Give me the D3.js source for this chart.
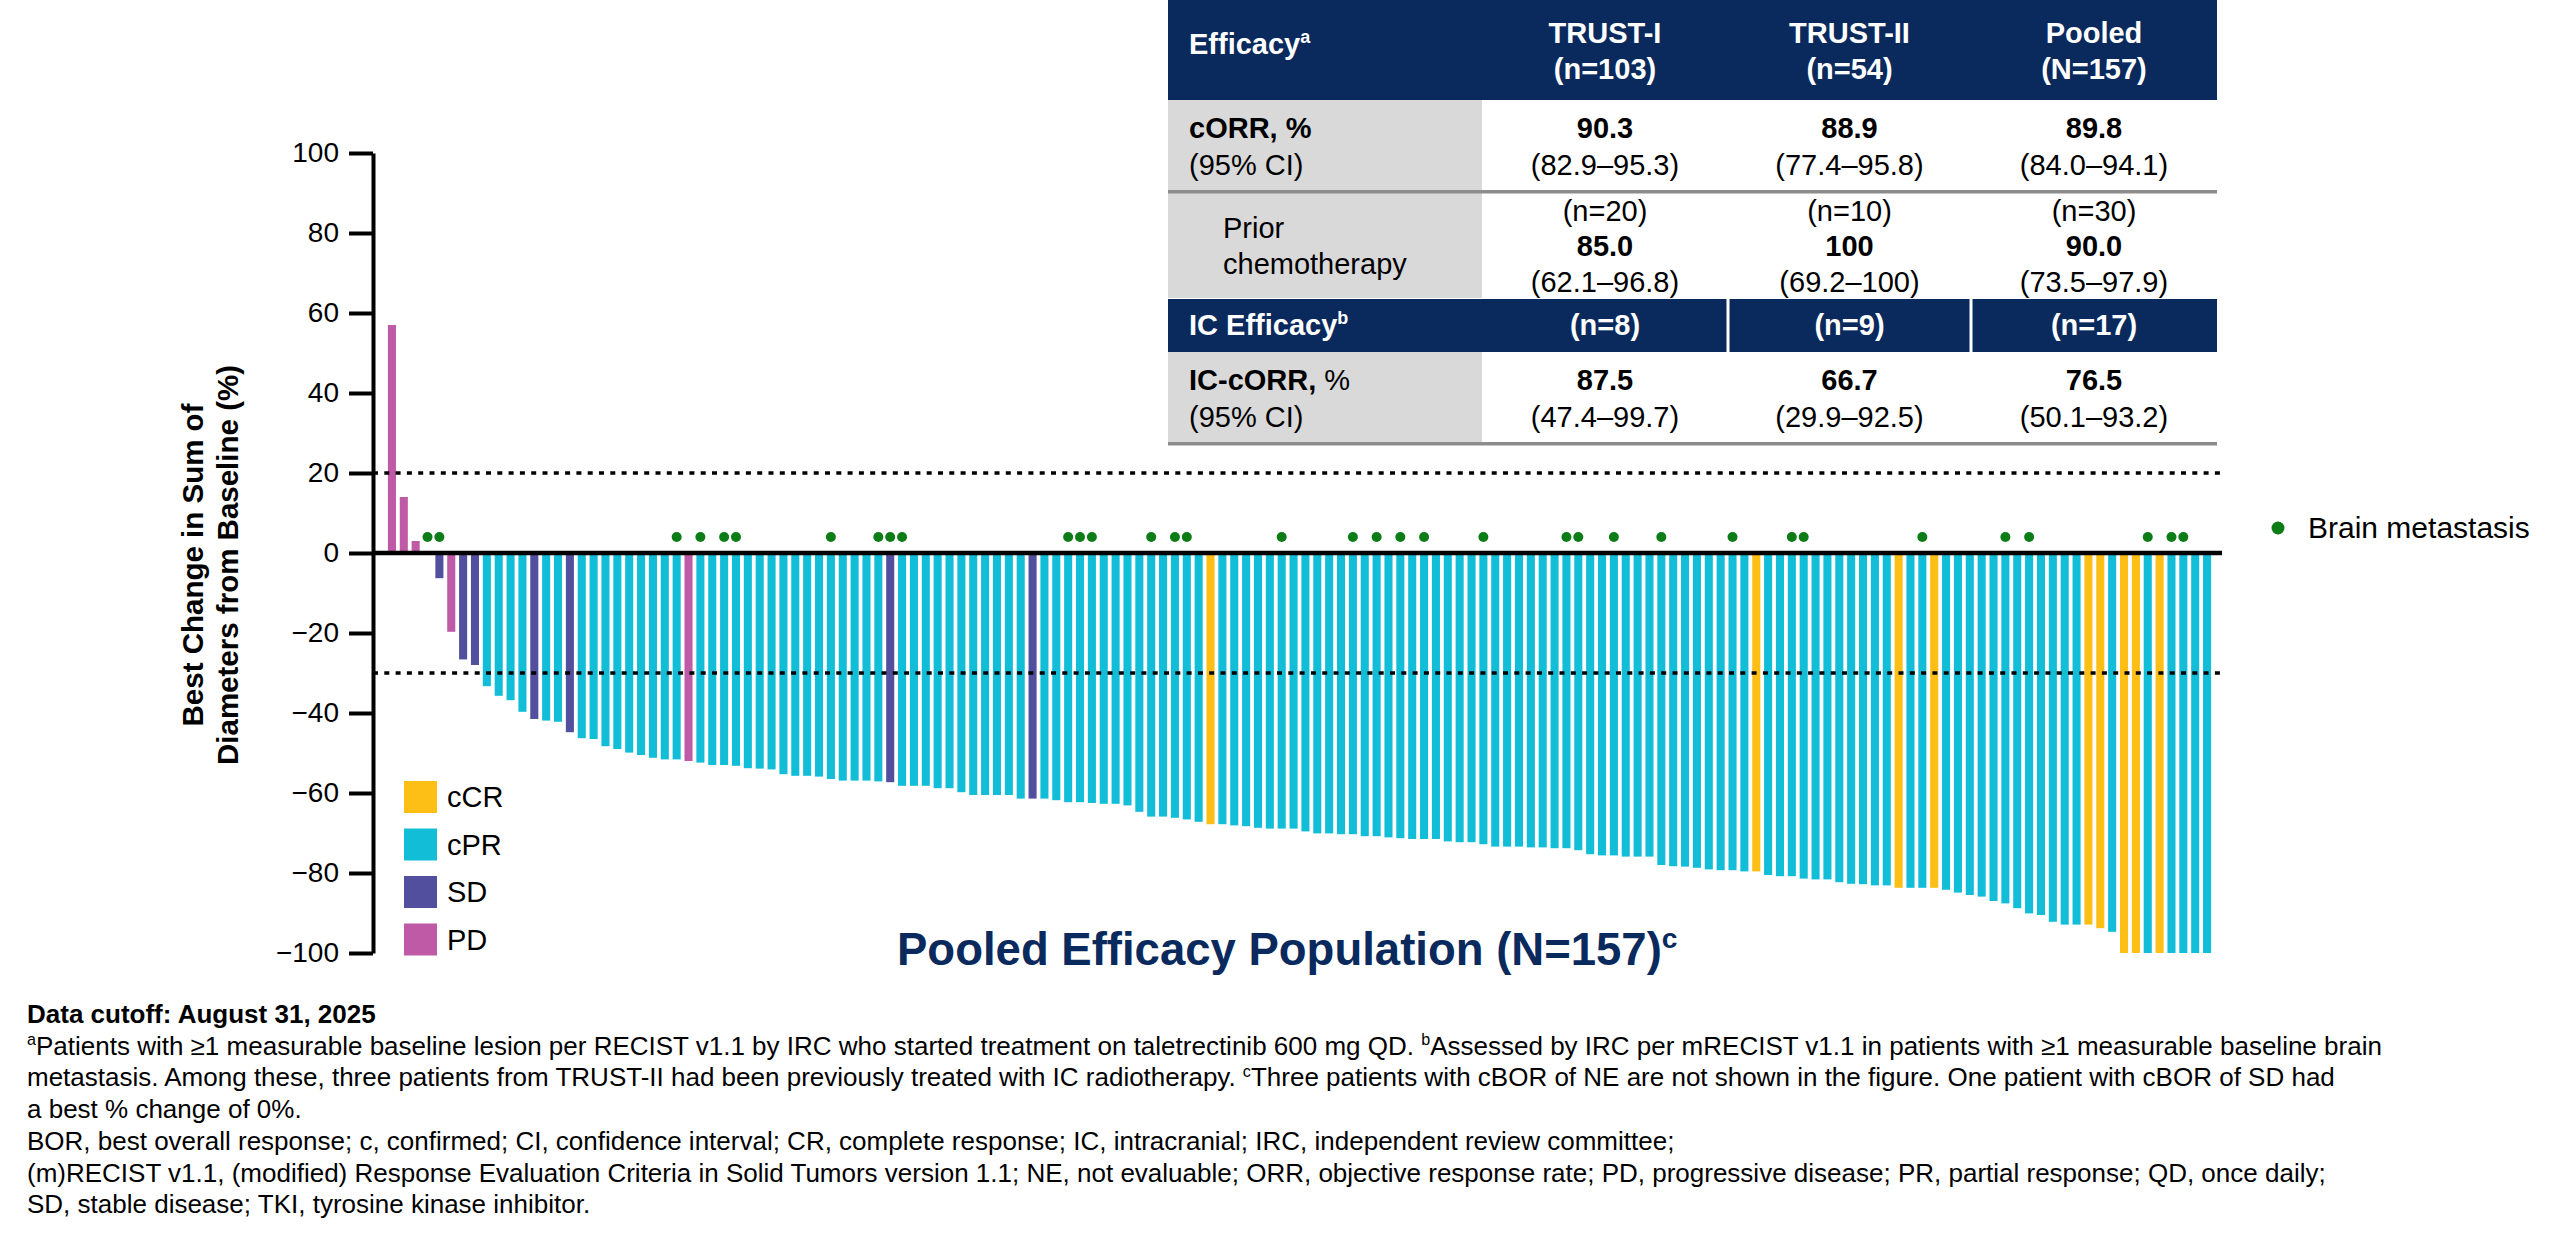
<!DOCTYPE html>
<html>
<head>
<meta charset="utf-8">
<script src="https://cdn.jsdelivr.net/npm/d3@7"></script>
<style>
	body { margin: 0; background: #fff; }
	svg text { font-family: "Liberation Sans", Arial, sans-serif; }
</style>
</head>
<body>
<div id="chart"></div>
<script>
/* pooled waterfall plot */

// best % change from baseline, one value per patient, sorted
const bestChange = [
	57, 14, 3, 0, -6.3, -19.7, -26.6, -28, -33.3, -35.7,
	-36.8, -39.7, -41.5, -41.9, -42.2, -44.8, -46.3, -46.5, -48.3, -49,
	-49.9, -50.5, -51.2, -51.6, -51.6, -52, -52.4, -53, -53, -53.2,
	-53.8, -53.9, -54.1, -55.3, -55.7, -55.7, -55.9, -56.5, -56.9, -56.9,
	-56.9, -57.1, -57.3, -58.2, -58.2, -58.2, -58.8, -58.8, -59.8, -60.5,
	-60.5, -60.5, -60.5, -61.4, -61.4, -61.4, -61.8, -62.3, -62.3, -62.5,
	-62.7, -62.7, -63.1, -64.7, -65.9, -65.9, -66.2, -66.6, -67.2, -67.8,
	-67.8, -68.1, -68.3, -68.7, -68.9, -68.9, -68.9, -69.6, -70.1, -70.1,
	-70.3, -70.3, -70.8, -70.8, -71.1, -71.3, -71.5, -71.5, -71.5, -72.1,
	-72.3, -72.3, -72.8, -73.4, -73.4, -73.4, -73.6, -73.6, -73.8, -73.8,
	-74.3, -75.3, -75.6, -75.6, -75.9, -75.9, -75.9, -78, -78.3, -78.4,
	-78.7, -79.1, -79.3, -79.3, -79.6, -79.6, -80.5, -80.8, -80.8, -81.4,
	-81.6, -81.6, -82.3, -82.7, -82.8, -83.1, -83.1, -83.7, -83.7, -83.7,
	-83.7, -84.2, -84.9, -85.5, -85.9, -87, -87.6, -88.8, -90.1, -90.5,
	-92.2, -92.9, -92.9, -92.9, -93.8, -94.7, -100, -100, -100, -100,
	-100, -100, -100, -100
];

// confirmed best overall response for each bar
const response = [
	"PD","PD","PD","SD","SD","PD","SD","SD","PR","PR",
	"PR","PR","SD","PR","PR","SD","PR","PR","PR","PR",
	"PR","PR","PR","PR","PR","PD","PR","PR","PR","PR",
	"PR","PR","PR","PR","PR","PR","PR","PR","PR","PR",
	"PR","PR","SD","PR","PR","PR","PR","PR","PR","PR",
	"PR","PR","PR","PR","SD","PR","PR","PR","PR","PR",
	"PR","PR","PR","PR","PR","PR","PR","PR","PR","CR",
	"PR","PR","PR","PR","PR","PR","PR","PR","PR","PR",
	"PR","PR","PR","PR","PR","PR","PR","PR","PR","PR",
	"PR","PR","PR","PR","PR","PR","PR","PR","PR","PR",
	"PR","PR","PR","PR","PR","PR","PR","PR","PR","PR",
	"PR","PR","PR","PR","PR","CR","PR","PR","PR","PR",
	"PR","PR","PR","PR","PR","PR","PR","CR","PR","PR",
	"CR","PR","PR","PR","PR","PR","PR","PR","PR","PR",
	"PR","PR","PR","CR","CR","PR","CR","CR","PR","CR",
	"PR","PR","PR","PR"
];

// patients (bar number) with brain metastasis
const brainMets = [4, 5, 25, 27, 29, 30, 38, 42, 43, 44, 58, 59, 60, 65, 67, 68, 76,
	82, 84, 86, 88, 93, 100, 101, 104, 108, 114, 119, 120, 130, 137, 139, 149, 151, 152];

const yTicks = [-100, -80, -60, -40, -20, 0, 20, 40, 60, 80, 100];
const refLines = [20, -30];

const legendKeys = ["CR", "PR", "SD", "PD"];
const legendLabels = ["cCR", "cPR", "SD", "PD"];

// efficacy table
const studies = ["TRUST-I", "TRUST-II", "Pooled"];
const studyN = ["(n=103)", "(n=54)", "(N=157)"];
const cORR = ["90.3", "88.9", "89.8"];
const cORRci = ["(82.9–95.3)", "(77.4–95.8)", "(84.0–94.1)"];
const priorN = ["(n=20)", "(n=10)", "(n=30)"];
const priorORR = ["85.0", "100", "90.0"];
const priorCI = ["(62.1–96.8)", "(69.2–100)", "(73.5–97.9)"];
const icN = ["(n=8)", "(n=9)", "(n=17)"];
const icORR = ["87.5", "66.7", "76.5"];
const icCI = ["(47.4–99.7)", "(29.9–92.5)", "(50.1–93.2)"];

// footnote lines, each a list of [text, style] pieces
const notes = [
	[["Data cutoff: August 31, 2025", "b"]],
	[["a", "sup"], ["Patients with ≥1 measurable baseline lesion per RECIST v1.1 by IRC who started treatment on taletrectinib 600 mg QD. "], ["b", "sup"], ["Assessed by IRC per mRECIST v1.1 in patients with ≥1 measurable baseline brain"]],
	[["metastasis. Among these, three patients from TRUST-II had been previously treated with IC radiotherapy. "], ["c", "sup"], ["Three patients with cBOR of NE are not shown in the figure. One patient with cBOR of SD had"]],
	[["a best % change of 0%."]],
	[["BOR, best overall response; c, confirmed; CI, confidence interval; CR, complete response; IC, intracranial; IRC, independent review committee;"]],
	[["(m)RECIST v1.1, (modified) Response Evaluation Criteria in Solid Tumors version 1.1; NE, not evaluable; ORR, objective response rate; PD, progressive disease; PR, partial response; QD, once daily;"]],
	[["SD, stable disease; TKI, tyrosine kinase inhibitor."]]
];

var Waterfall = function(config){
	this.targetID = config.targetID;
	this.width = 2560;
	this.height = 1235;

	this.colors = {CR: "#FDBE16", PR: "#12BDD8", SD: "#534F9F", PD: "#BE5AA6"};
	this.green = "#0C7D16";
	this.navy = "#0A2A5E";

	// Creation sequence
	this.createSVG();
	this.setupScales();
	this.addBars();
	this.addAxis();
	this.addLegend();
	this.addTable();
	this.addNotes();
}

Waterfall.prototype.createSVG = function(){
	this.svg = d3.select("#" + this.targetID).append('svg')
		.attr('width', this.width)
		.attr('height', this.height);

	this.svg.append('rect')
		.attr('width', this.width)
		.attr('height', this.height)
		.style('fill', '#fff');
}

Waterfall.prototype.setupScales = function(){
	this.x = d3.scaleBand()
		.domain(d3.range(1, bestChange.length + 1))
		.range([386, 2213])
		.paddingInner(0.32)
		.paddingOuter(0.16);

	this.y = d3.scaleLinear()
		.domain([-100, 100])
		.range([953, 153]);

	this.axisX = 373;
	this.lineEnd = 2220;
}

Waterfall.prototype.rich = function(sel, parts, size){
	/*
	Appends tspans to a text, superscripts drawn smaller and raised
	*/
	let raised = false;
	parts.forEach(p => {
		let t = sel.append('tspan').text(p[0]);
		if (p[1] === 'sup') {
			t.style('font-size', (size * 0.62) + 'px').attr('dy', -size * 0.38);
			raised = true;
		} else {
			if (raised) t.attr('dy', size * 0.38);
			raised = false;
			if (p[1] === 'b') t.style('font-weight', 'bold');
		}
	});
}

Waterfall.prototype.addBars = function(){
	let data = bestChange.map((v, i) => ({id: i + 1, v: v, r: response[i]}));

	this.svg.append('g').selectAll('rect')
		.data(data)
		.enter()
		.append('rect')
		.attr('x', d => this.x(d.id))
		.attr('width', this.x.bandwidth())
		.attr('y', d => this.y(Math.max(0, d.v)))
		.attr('height', d => Math.abs(this.y(d.v) - this.y(0)))
		.style('fill', d => this.colors[d.r]);

	// dotted reference lines
	this.svg.append('g').selectAll('line')
		.data(refLines)
		.enter()
		.append('line')
		.attr('x1', this.axisX)
		.attr('x2', this.lineEnd)
		.attr('y1', d => this.y(d))
		.attr('y2', d => this.y(d))
		.style('stroke', '#000')
		.style('stroke-width', 3.5)
		.style('stroke-dasharray', '5 6.3');

	// zero line
	this.svg.append('line')
		.attr('x1', this.axisX)
		.attr('x2', this.lineEnd + 2)
		.attr('y1', this.y(0))
		.attr('y2', this.y(0))
		.style('stroke', '#000')
		.style('stroke-width', 4.5);

	// brain metastasis markers
	this.svg.append('g').selectAll('circle')
		.data(brainMets)
		.enter()
		.append('circle')
		.attr('cx', d => this.x(d) + this.x.bandwidth() / 2)
		.attr('cy', this.y(4))
		.attr('r', 5)
		.style('fill', this.green);
}

Waterfall.prototype.addAxis = function(){
	let axis = d3.axisLeft(this.y)
		.tickValues(yTicks)
		.tickSize(24)
		.tickSizeOuter(0)
		.tickPadding(10)
		.tickFormat(d => d < 0 ? '\u2212' + Math.abs(d) : d);

	let g = this.svg.append('g')
		.attr('transform', `translate(${this.axisX},0)`)
		.call(axis);

	g.select('.domain').style('stroke-width', 4);
	g.selectAll('.tick line').style('stroke-width', 4);
	g.selectAll('.tick text')
		.style('font-size', '28px')
		.style('font-family', '"Liberation Sans", Arial, sans-serif')
		.style('fill', '#000');

	// y label, two lines
	let label = this.svg.append('text')
		.attr('transform', 'translate(203,565) rotate(-90)')
		.style('text-anchor', 'middle')
		.style('font-size', '29.5px')
		.style('font-weight', 'bold');
	label.append('tspan').attr('x', 0).attr('y', 0).text('Best Change in Sum of');
	label.append('tspan').attr('x', 0).attr('y', 35).text('Diameters from Baseline (%)');

	// title under the bars
	let title = this.svg.append('text')
		.attr('x', 897)
		.attr('y', 965)
		.style('font-size', '45.5px')
		.style('font-weight', 'bold')
		.style('fill', this.navy);
	this.rich(title, [['Pooled Efficacy Population (N=157)'], ['c', 'sup']], 45.5);
}

Waterfall.prototype.addLegend = function(){
	let g = this.svg.append('g');

	let items = g.selectAll('g')
		.data(legendKeys)
		.enter()
		.append('g')
		.attr('transform', (d, i) => `translate(404,${781 + i * 47.5})`);

	items.append('rect')
		.attr('width', 33)
		.attr('height', 32)
		.style('fill', d => this.colors[d]);

	items.append('text')
		.attr('x', 43)
		.attr('y', 26)
		.style('font-size', '29px')
		.text((d, i) => legendLabels[i]);

	// brain metastasis key
	this.svg.append('circle')
		.attr('cx', 2278)
		.attr('cy', 528)
		.attr('r', 6.5)
		.style('fill', this.green);

	this.svg.append('text')
		.attr('x', 2308)
		.attr('y', 538)
		.style('font-size', '30px')
		.text('Brain metastasis');
}

Waterfall.prototype.addTable = function(){
	let g = this.svg.append('g');
	let edges = [1168, 1482, 1728, 1971, 2217];
	let centers = d3.range(3).map(i => (edges[i + 1] + edges[i + 2]) / 2);
	let fs = 29;
	let labelX = 1189;

	// backgrounds
	g.append('rect').attr('x', edges[0]).attr('y', 0).attr('width', edges[4] - edges[0]).attr('height', 100).style('fill', this.navy);
	[[100, 90], [193, 105], [352, 90]].forEach(r => {
		g.append('rect').attr('x', edges[0]).attr('y', r[0]).attr('width', edges[1] - edges[0]).attr('height', r[1]).style('fill', '#D9D9D9');
	});
	g.append('rect').attr('x', edges[0]).attr('y', 299).attr('width', edges[4] - edges[0]).attr('height', 53).style('fill', this.navy);
	[edges[2], edges[3]].forEach(x => {
		g.append('rect').attr('x', x - 1.5).attr('y', 299).attr('width', 3).attr('height', 53).style('fill', '#fff');
	});
	[190, 442].forEach(y => {
		g.append('rect').attr('x', edges[0]).attr('y', y).attr('width', edges[4] - edges[0]).attr('height', 3.5).style('fill', '#8C8C8C');
	});

	let put = (x, y, parts, opts) => {
		let t = g.append('text')
			.attr('x', x)
			.attr('y', y)
			.style('font-size', fs + 'px')
			.style('fill', opts.fill || '#000')
			.style('text-anchor', opts.anchor || 'start');
		if (opts.bold) t.style('font-weight', 'bold');
		this.rich(t, parts, fs);
	};

	// header
	put(labelX, 54, [['Efficacy'], ['a', 'sup']], {bold: true, fill: '#fff'});
	studies.forEach((s, i) => {
		put(centers[i], 43, [[s]], {bold: true, fill: '#fff', anchor: 'middle'});
		put(centers[i], 79, [[studyN[i]]], {bold: true, fill: '#fff', anchor: 'middle'});
	});

	// cORR row
	put(labelX, 138, [['cORR, %']], {bold: true});
	put(labelX, 175, [['(95% CI)']], {});
	cORR.forEach((v, i) => {
		put(centers[i], 138, [[v]], {bold: true, anchor: 'middle'});
		put(centers[i], 175, [[cORRci[i]]], {anchor: 'middle'});
	});

	// prior chemotherapy row
	put(1223, 238, [['Prior']], {});
	put(1223, 274, [['chemotherapy']], {});
	priorORR.forEach((v, i) => {
		put(centers[i], 221, [[priorN[i]]], {anchor: 'middle'});
		put(centers[i], 256, [[v]], {bold: true, anchor: 'middle'});
		put(centers[i], 292, [[priorCI[i]]], {anchor: 'middle'});
	});

	// intracranial header and row
	put(labelX, 335, [['IC Efficacy'], ['b', 'sup']], {bold: true, fill: '#fff'});
	icN.forEach((v, i) => put(centers[i], 335, [[v]], {bold: true, fill: '#fff', anchor: 'middle'}));

	put(labelX, 390, [['IC-cORR,', 'b'], [' %']], {});
	put(labelX, 427, [['(95% CI)']], {});
	icORR.forEach((v, i) => {
		put(centers[i], 390, [[v]], {bold: true, anchor: 'middle'});
		put(centers[i], 427, [[icCI[i]]], {anchor: 'middle'});
	});
}

Waterfall.prototype.addNotes = function(){
	let fs = 26;
	notes.forEach((line, i) => {
		let t = this.svg.append('text')
			.attr('x', 27)
			.attr('y', 1023 + i * 31.7)
			.style('font-size', fs + 'px');
		this.rich(t, line, fs);
	});
}

new Waterfall({targetID: 'chart'});
</script>
</body>
</html>
